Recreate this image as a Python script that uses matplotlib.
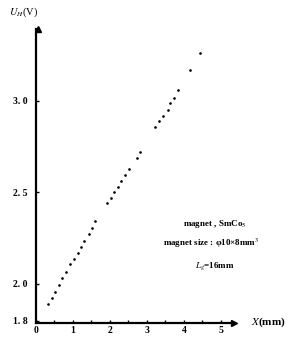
import matplotlib.pyplot as plt
from matplotlib.ticker import MultipleLocator

# data (X in mm, U_H in V)
x_mm = [0.32, 0.43, 0.51, 0.61, 0.70, 0.82, 0.91, 1.02, 1.13, 1.21, 1.31,
        1.44, 1.52, 1.61, 1.92, 2.03, 2.11, 2.22, 2.31, 2.41, 2.53, 2.73,
        2.82, 3.23, 3.33, 3.44, 3.56, 3.63, 3.73, 3.85, 4.16, 4.43]
u_h = [1.892, 1.925, 1.958, 1.995, 2.033, 2.067, 2.108, 2.137, 2.171, 2.202,
       2.237, 2.272, 2.308, 2.343, 2.441, 2.472, 2.503, 2.532, 2.563, 2.597,
       2.630, 2.690, 2.720, 2.856, 2.891, 2.918, 2.951, 2.987, 3.018, 3.058,
       3.166, 3.264]

x_ticks = [0, 1, 2, 3, 4, 5]
y_ticks = [1.8, 2.0, 2.5, 3.0]
y_tick_labels = ['1. 8', '2. 0', '2. 5', '3. 0']

notes = ['magnet , SmCo$_5$',
         'magnet size : φ10×8mm$^3$',
         '$L_g$=16mm']

plt.rcParams['font.family'] = ['Liberation Serif', 'DejaVu Serif']
plt.rcParams['mathtext.fontset'] = 'stix'

fig = plt.figure(figsize=(2.88, 3.38), dpi=100)
ax = fig.add_axes([0.125, 0.0444, 0.6865, 0.870])

ax.plot(x_mm, u_h, linestyle='none', marker='o', markersize=0.9,
        color='black')

ax.set_xlim(0.05, 5.35)
ax.set_ylim(1.787, 3.393)

for s in ['top', 'right']:
    ax.spines[s].set_visible(False)
for s in ['left', 'bottom']:
    ax.spines[s].set_linewidth(1.6)

ax.set_xticks(x_ticks)
ax.xaxis.set_minor_locator(MultipleLocator(0.5))
ax.set_yticks(y_ticks)
ax.set_yticklabels(y_tick_labels)
ax.tick_params(direction='in', length=2.5, width=1, labelsize=7)
ax.tick_params(axis='y', pad=6)
ax.tick_params(axis='x', pad=2)
ax.tick_params(which='minor', direction='in', length=2, width=1)
for lab in ax.get_xticklabels() + ax.get_yticklabels():
    lab.set_fontweight('bold')

# arrow heads on the axes
ax.plot([0.05], [3.393], marker='^', markersize=4.5, color='black',
        clip_on=False)
ax.plot([5.35], [1.787], marker='>', markersize=4, color='black',
        clip_on=False)

# axis titles
fig.text(0.03, 0.965, '$U_H$(V)', fontsize=7.5, ha='left', va='center')
fig.text(0.87, 0.047, '$X$(mm)', fontsize=8, ha='left', va='center',
         fontweight='bold')

# annotation block
fig.text(0.745, 0.338, notes[0], fontsize=6.5, ha='center', va='center',
         fontweight='bold')
fig.text(0.735, 0.281, notes[1], fontsize=6.5, ha='center', va='center',
         fontweight='bold')
fig.text(0.745, 0.213, notes[2], fontsize=6.5, ha='center', va='center',
         fontweight='bold')

fig.savefig('out.png', dpi=100)
